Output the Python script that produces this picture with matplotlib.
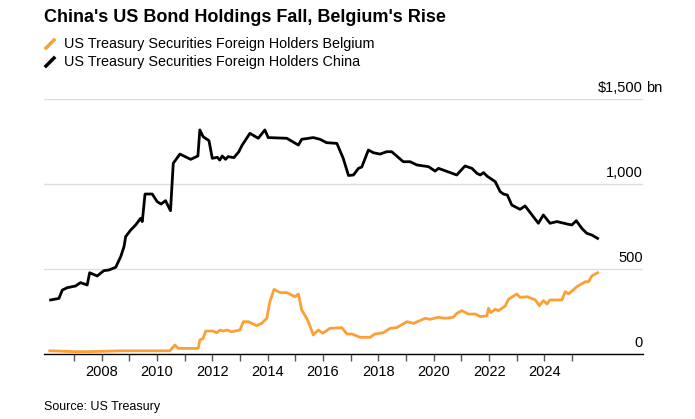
import matplotlib
matplotlib.use("Agg")
import matplotlib.pyplot as plt
from matplotlib.lines import Line2D

plt.rcParams['font.family'] = ['Liberation Sans', 'DejaVu Sans']

china_t = [2006.16, 2006.46, 2006.58, 2006.76, 2007.06, 2007.24, 2007.48, 2007.57, 2007.84, 2008.08,
           2008.26, 2008.51, 2008.69, 2008.81, 2008.87, 2009.05, 2009.23, 2009.41, 2009.47, 2009.57,
           2009.83, 2010.01, 2010.15, 2010.31, 2010.49, 2010.59, 2010.83, 2011.22, 2011.48, 2011.55,
           2011.67, 2011.88, 2012.00, 2012.18, 2012.27, 2012.36, 2012.48, 2012.57, 2012.78, 2012.96,
           2013.08, 2013.36, 2013.66, 2013.90, 2014.02, 2014.69, 2015.11,
           2015.23, 2015.65, 2015.89, 2016.13, 2016.50, 2016.73, 2016.92, 2017.10, 2017.28, 2017.40,
           2017.64, 2017.82, 2018.06, 2018.30, 2018.48, 2018.90, 2019.15, 2019.39, 2019.81, 2020.05,
           2020.17, 2020.41, 2020.83, 2021.13, 2021.38, 2021.56, 2021.68, 2021.80, 2021.92, 2022.22,
           2022.40, 2022.52, 2022.66, 2022.82, 2023.12, 2023.30, 2023.78, 2023.96, 2024.20, 2024.45,
           2024.81, 2024.99, 2025.15, 2025.35, 2025.53, 2025.71, 2025.92]
china_v = [318, 327, 376, 390, 400, 420, 406, 478, 459, 490,
           494, 510, 572, 631, 690, 729, 759, 798, 779, 941,
           941, 896, 882, 902, 843, 1122, 1176, 1145, 1165, 1318,
           1278, 1255, 1151, 1157, 1141, 1165, 1145, 1161, 1155, 1190,
           1229, 1298, 1269, 1318, 1273, 1269, 1229,
           1263, 1273, 1263, 1243, 1239, 1151, 1050, 1053, 1092, 1100,
           1200, 1184, 1176, 1190, 1190, 1131, 1131, 1112, 1102, 1076,
           1092, 1078, 1053, 1106, 1092, 1063, 1053, 1067, 1047, 1014,
           955, 941, 935, 876, 851, 871, 769, 818, 769, 779,
           765, 759, 784, 739, 710, 700, 680]

belgium_t = [2006.13, 2006.97, 2007.58, 2008.78, 2010.47, 2010.65, 2010.77, 2011.49, 2011.55, 2011.67,
             2011.76, 2012.03, 2012.16, 2012.28, 2012.40, 2012.52, 2012.70, 2013.00, 2013.12, 2013.30,
             2013.60, 2013.78, 2013.97, 2014.08, 2014.23, 2014.45, 2014.69, 2014.99, 2015.11, 2015.23,
             2015.41, 2015.47, 2015.65, 2015.83, 2015.99, 2016.25, 2016.68, 2016.86, 2017.04, 2017.34,
             2017.70, 2017.88, 2018.18, 2018.42, 2018.66, 2019.03, 2019.27, 2019.69, 2019.87, 2020.17,
             2020.41, 2020.71, 2020.83, 2021.02, 2021.25, 2021.50, 2021.68, 2021.92, 2021.98, 2022.06,
             2022.22, 2022.34, 2022.58, 2022.70, 2023.00, 2023.12, 2023.37, 2023.67, 2023.82, 2023.96,
             2024.09, 2024.20, 2024.63, 2024.75, 2024.87, 2025.17, 2025.47, 2025.59, 2025.71, 2025.92]
belgium_v = [19, 14, 14, 19, 19, 53, 33, 33, 82, 92,
             135, 135, 125, 141, 135, 141, 131, 141, 190, 190,
             167, 180, 210, 308, 380, 361, 361, 337, 353, 259,
             210, 190, 112, 141, 122, 151, 155, 118, 118, 98,
             98, 118, 125, 151, 155, 190, 180, 210, 204, 216,
             210, 216, 239, 255, 235, 235, 220, 224, 269, 243,
             263, 255, 282, 322, 353, 333, 337, 318, 284, 314,
             294, 318, 318, 367, 353, 396, 425, 425, 459, 478]

y_ticks = [0, 500, 1000, 1500]
y_labels = ["0", "500", "1,000", "$1,500"]
y_unit = "bn"
x_major = list(range(2008, 2025, 2))
x_minor = list(range(2007, 2026, 2))

title = "China's US Bond Holdings Fall, Belgium's Rise"
series_names = ["US Treasury Securities Foreign Holders Belgium",
                "US Treasury Securities Foreign Holders China"]
source = "Source: US Treasury"

ORANGE = '#fca035'
W, H = 695, 419
fig = plt.figure(figsize=(W / 100, H / 100), dpi=100)
ax = fig.add_axes([44 / W, (H - 354) / H, (643 - 44) / W, (354 - 99) / H])

ax.plot(belgium_t, belgium_v, color=ORANGE, lw=2.0, solid_joinstyle='round', clip_on=False)
ax.plot(china_t, china_v, color='black', lw=2.0, solid_joinstyle='round', clip_on=False)

ax.set_xlim(2005.92, 2027.56)
ax.set_ylim(0, 1500)
for s in ['top', 'right', 'left']:
    ax.spines[s].set_visible(False)
ax.spines['bottom'].set_color('black')
ax.spines['bottom'].set_linewidth(1.0)
ax.set_yticks(y_ticks)
ax.set_yticklabels([])
ax.tick_params(axis='y', length=0)
ax.grid(axis='y', color='#dddddd', lw=1.0)
ax.set_axisbelow(True)
ax.set_xticks(x_major)
ax.set_xticks(x_minor, minor=True)
ax.set_xticklabels([str(y) for y in x_major], fontsize=10.5)
ax.tick_params(axis='x', which='both', length=5, width=1, color='#555555', pad=3)

for v, lab in zip(y_ticks, y_labels):
    ax.annotate(lab, xy=(1, v), xycoords=('axes fraction', 'data'),
                xytext=(0, 5), textcoords='offset points',
                ha='right', va='baseline', fontsize=10.5)
ax.annotate(y_unit, xy=(1, y_ticks[-1]), xycoords=('axes fraction', 'data'),
            xytext=(2.2, 5), textcoords='offset points',
            ha='left', va='baseline', fontsize=10.5)

fig.text(44 / W, 1 - 18 / H, title, fontsize=13, fontweight='bold', va='center', ha='left')
for i, (name, col) in enumerate(zip(series_names, [ORANGE, 'black'])):
    yc = 1 - (44 + 18 * i) / H
    fig.add_artist(Line2D([46 / W, 54 / W], [yc - 4 / H, yc + 4 / H], color=col, lw=2.5))
    fig.text(64 / W, yc, name, fontsize=10.4, va='center', ha='left')
fig.text(44 / W, 1 - 407 / H, source, fontsize=9, va='center', ha='left')

fig.savefig('out.png', dpi=100)
